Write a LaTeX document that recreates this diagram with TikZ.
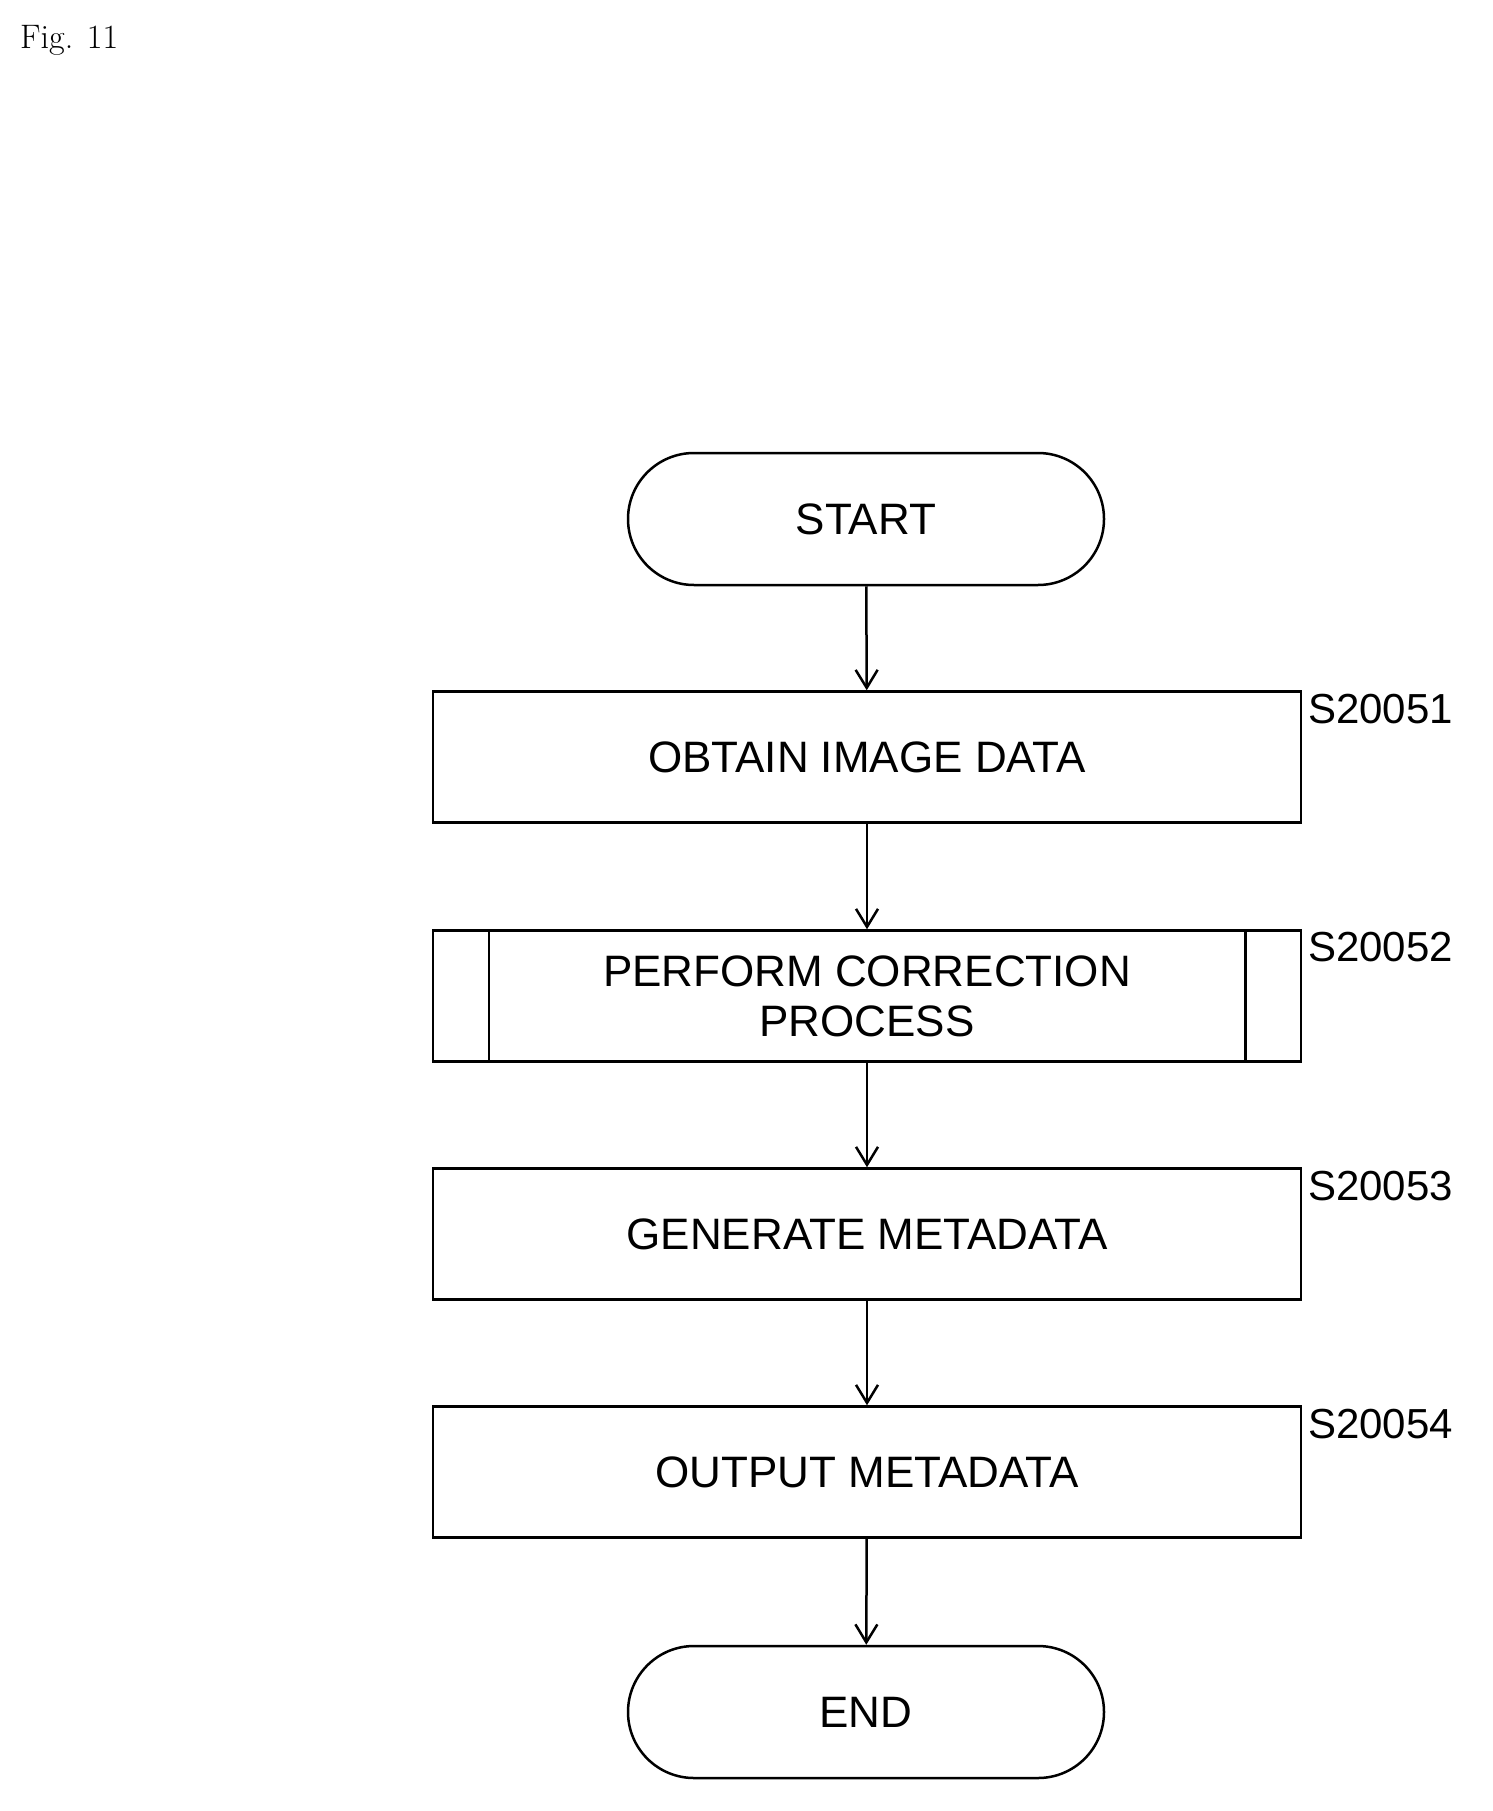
\documentclass[tikz,border=0pt]{standalone}
\usepackage{fontspec}
\newfontfamily\lsans{Liberation Sans}
\usetikzlibrary{arrows.meta}
\begin{document}
\begin{tikzpicture}[x=1pt,y=-1pt,
  box/.style={draw,line width=2.5pt,minimum width=868pt,minimum height=131pt,inner sep=0pt,font=\lsans\fontsize{44}{50}\selectfont,align=center},
  term/.style={draw,line width=2.5pt,rounded corners=66pt,minimum width=476pt,minimum height=132pt,inner sep=0pt,font=\lsans\fontsize{44}{50}\selectfont},
  lab/.style={anchor=north west,font=\lsans\fontsize{42}{48}\selectfont,inner sep=0pt},
  arr/.style={-{Straight Barb[length=18pt,width=22pt]},line width=2.5pt}]
\useasboundingbox (0,0) rectangle (1492,1811);
\node[anchor=west,font=\fontsize{34}{40}\selectfont,inner sep=0pt] (fig) at (20,40) {Fig. 11};
\node[term] (start) at (866,519) {START};
\node[box] (b1) at (867,757) {OBTAIN IMAGE DATA};
\node[box] (b2) at (867,996) {PERFORM CORRECTION\\PROCESS};
\node[box] (b3) at (867,1234) {GENERATE METADATA};
\node[box] (b4) at (867,1472) {OUTPUT METADATA};
\node[term] (end) at (866,1712) {END};
\draw[line width=2.5pt] ([xshift=57pt]b2.north west) -- ([xshift=57pt]b2.south west);
\draw[line width=2.5pt] ([xshift=-57pt]b2.north east) -- ([xshift=-57pt]b2.south east);
\node[lab] (l1) at (1308,694) {S20051};
\node[lab] (l2) at (1308,932) {S20052};
\node[lab] (l3) at (1308,1171) {S20053};
\node[lab] (l4) at (1308,1409) {S20054};
\draw[arr] (start) -- (b1);
\draw[arr] (b1) -- (b2);
\draw[arr] (b2) -- (b3);
\draw[arr] (b3) -- (b4);
\draw[arr] (b4) -- (end);
\end{tikzpicture}
\end{document}
